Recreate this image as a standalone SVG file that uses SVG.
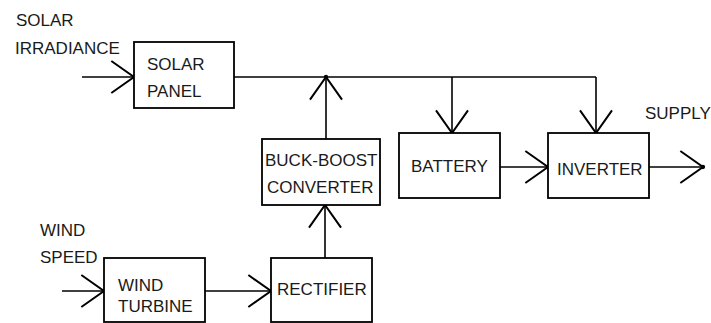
<svg xmlns="http://www.w3.org/2000/svg" width="711" height="323" viewBox="0 0 711 323">
<defs>
<style>
.box{fill:#fff;stroke:#000;stroke-width:1.8}
.ln{fill:none;stroke:#000;stroke-width:1.6}
.t{font-family:"Liberation Sans",Arial,sans-serif;font-size:17px;fill:#1a1a1a}
</style>
<marker id="ah" markerUnits="userSpaceOnUse" markerWidth="40" markerHeight="40" refX="0" refY="0" viewBox="-20 -15 22 30" orient="auto">
<path d="M-17,-12 L0,0 L-17,12" fill="none" stroke="#000" stroke-width="1.5"/>
<circle cx="0" cy="0" r="1.6" fill="#000"/>
</marker>
</defs>
<rect width="711" height="323" fill="#fff"/>
<g id="labels">
<text class="t" x="16" y="26">SOLAR</text>
<text class="t" x="15" y="54">IRRADIANCE</text>
<text class="t" x="40" y="236">WIND</text>
<text class="t" x="40" y="263">SPEED</text>
<text class="t" x="645" y="119">SUPPLY</text>
</g>
<g id="connectors">
<line class="ln" x1="82" y1="77" x2="134" y2="77" marker-end="url(#ah)"/>
<polyline class="ln" points="234,77 596,77"/>
<line class="ln" x1="452" y1="77" x2="452" y2="133" marker-end="url(#ah)"/>
<line class="ln" x1="596" y1="77" x2="596" y2="133" marker-end="url(#ah)"/>
<line class="ln" x1="326" y1="139" x2="326" y2="77" marker-end="url(#ah)"/>
<line class="ln" x1="500" y1="167" x2="548" y2="167" marker-end="url(#ah)"/>
<line class="ln" x1="649" y1="167" x2="703" y2="167" marker-end="url(#ah)"/>
<line class="ln" x1="62" y1="291" x2="104" y2="291" marker-end="url(#ah)"/>
<line class="ln" x1="205" y1="291" x2="271" y2="291" marker-end="url(#ah)"/>
<line class="ln" x1="325" y1="258" x2="325" y2="205" marker-end="url(#ah)"/>
</g>
<g id="solar-panel">
<rect class="box" x="134" y="42" width="100" height="66"/>
<text class="t" x="147" y="70">SOLAR</text>
<text class="t" x="147" y="97">PANEL</text>
</g>
<g id="buck-boost">
<rect class="box" x="262" y="139" width="118" height="66"/>
<text class="t" x="265" y="166">BUCK-BOOST</text>
<text class="t" x="267" y="193">CONVERTER</text>
</g>
<g id="battery">
<rect class="box" x="399" y="133" width="101" height="65"/>
<text class="t" x="411" y="172">BATTERY</text>
</g>
<g id="inverter">
<rect class="box" x="548" y="133" width="101" height="65"/>
<text class="t" x="557" y="175">INVERTER</text>
</g>
<g id="wind-turbine">
<rect class="box" x="104" y="258" width="101" height="64"/>
<text class="t" x="118" y="291">WIND</text>
<text class="t" x="118" y="312">TURBINE</text>
</g>
<g id="rectifier">
<rect class="box" x="271" y="258" width="101" height="64"/>
<text class="t" x="277" y="295">RECTIFIER</text>
</g>
</svg>
